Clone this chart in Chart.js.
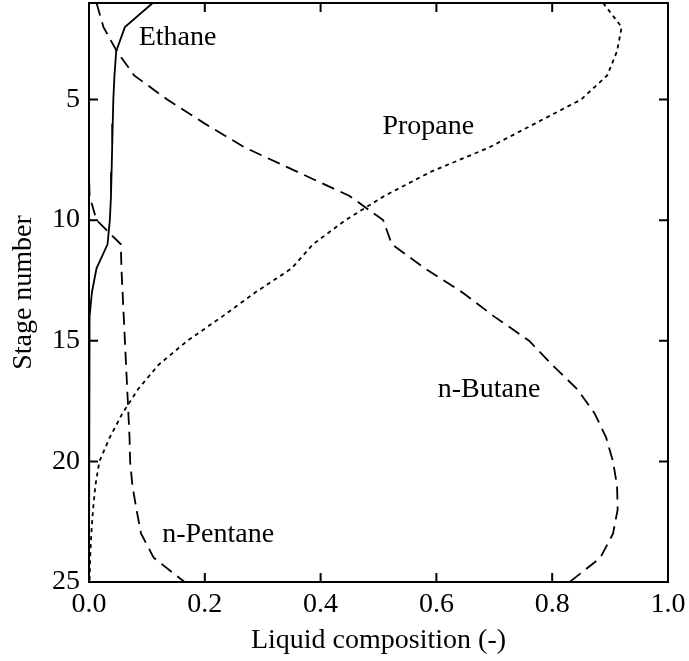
<!DOCTYPE html>
<html>
<head>
<meta charset="utf-8">
<script src="https://cdn.jsdelivr.net/npm/chart.js@4/dist/chart.umd.min.js"></script>
<style>
  html, body { margin: 0; padding: 0; background: #fff; }
  #wrap { width: 689px; height: 661px; position: relative; }
</style>
</head>
<body>
<div id="wrap"><canvas id="stages"></canvas></div>
<script>
// stage numbers, top of the column (1) to the bottom (25)
var stages = [1, 2, 3, 4, 5, 6, 7, 8, 9, 10, 11, 12, 13, 14, 15, 16, 17, 18, 19, 20, 21, 22, 23, 24, 25];

// liquid mole fractions on each stage
var ethane = [0.11, 0.062, 0.047, 0.044, 0.042, 0.041, 0.040, 0.039, 0.038, 0.036, 0.032, 0.013, 0.005, 0.001, 0, 0, 0, 0, 0, 0, 0, 0, 0, 0, 0];
var propane = [0.888, 0.92, 0.912, 0.895, 0.85, 0.77, 0.69, 0.59, 0.51, 0.443, 0.387, 0.35, 0.287, 0.23, 0.17, 0.12, 0.085, 0.058, 0.036, 0.018, 0.011, 0.007, 0.004, 0.002, 0.001];
var nButane = [0.013, 0.025, 0.048, 0.078, 0.135, 0.20, 0.27, 0.36, 0.45, 0.508, 0.523, 0.58, 0.645, 0.70, 0.76, 0.80, 0.843, 0.873, 0.893, 0.905, 0.912, 0.913, 0.905, 0.883, 0.83];
var nPentane = [0, 0, 0, 0, 0, 0, 0, 0, 0.001, 0.013, 0.055, 0.056, 0.058, 0.06, 0.062, 0.064, 0.066, 0.068, 0.07, 0.071, 0.075, 0.082, 0.09, 0.112, 0.165];

var xTicks = [0, 0.2, 0.4, 0.6, 0.8, 1.0];
var yTicks = [5, 10, 15, 20, 25];

// curve names written beside the lines (composition, stage)
var curveNames = ["Ethane", "Propane", "n-Butane", "n-Pentane"];
var nameX = [0.153, 0.586, 0.691, 0.223];
var nameY = [2.43, 6.12, 17.04, 23.05];

var FONT = "'Liberation Serif', 'Times New Roman', serif";

function toPoints(values) {
    return values.map(function (v, i) {
        return { x: v, y: stages[i] };
    });
}

function series(label, values, dash) {
    return {
        label: label,
        data: toPoints(values),
        showLine: true,
        borderColor: "#000",
        backgroundColor: "#000",
        borderWidth: 1.8,
        borderDash: dash,
        pointRadius: 0,
        tension: 0,
        fill: false,
    };
}

// frame around the plot, inward tick marks on all four sides, curve names
var framePlugin = {
    id: "frame",
    afterDatasetsDraw: function (chart) {
        var ctx = chart.ctx;
        var a = chart.chartArea;
        var xs = chart.scales.x;
        var ys = chart.scales.y;
        var len = 9;
        ctx.save();
        ctx.strokeStyle = "#000";
        ctx.lineWidth = 2;
        ctx.setLineDash([]);
        ctx.strokeRect(a.left, a.top, a.right - a.left, a.bottom - a.top);
        ctx.beginPath();
        xTicks.forEach(function (v) {
            var px = xs.getPixelForValue(v);
            ctx.moveTo(px, a.bottom);
            ctx.lineTo(px, a.bottom - len);
            ctx.moveTo(px, a.top);
            ctx.lineTo(px, a.top + len);
        });
        yTicks.forEach(function (v) {
            var py = ys.getPixelForValue(v);
            ctx.moveTo(a.left, py);
            ctx.lineTo(a.left + len, py);
            ctx.moveTo(a.right, py);
            ctx.lineTo(a.right - len, py);
        });
        ctx.stroke();

        ctx.fillStyle = "#000";
        ctx.font = "28px " + FONT;
        ctx.textAlign = "center";
        ctx.textBaseline = "middle";
        curveNames.forEach(function (name, i) {
            ctx.fillText(name, xs.getPixelForValue(nameX[i]), ys.getPixelForValue(nameY[i]));
        });
        ctx.restore();
    },
};

var ctx = document.getElementById("stages").getContext("2d");
var chart = new Chart(ctx, {
    type: "scatter",
    data: {
        datasets: [
            series("Ethane", ethane, []),
            series("Propane", propane, [4, 4]),
            series("n-Butane", nButane, [13, 7]),
            series("n-Pentane", nPentane, [13, 7]),
        ],
    },
    options: {
        responsive: true,
        maintainAspectRatio: false,
        animation: false,
        layout: {
            padding: { left: 0, right: 21, top: 3, bottom: 0 },
        },
        plugins: {
            legend: { display: false },
            tooltip: { enabled: false },
        },
        scales: {
            x: {
                type: "linear",
                min: 0,
                max: 1,
                grid: { display: false, drawTicks: false },
                border: { display: false },
                afterBuildTicks: function (scale) {
                    scale.ticks = xTicks.map(function (v) { return { value: v }; });
                },
                ticks: {
                    color: "#000",
                    padding: 6,
                    maxRotation: 0,
                    font: { family: FONT, size: 28 },
                    callback: function (v) { return Number(v).toFixed(1); },
                },
                title: {
                    display: true,
                    text: "Liquid composition (-)",
                    color: "#000",
                    padding: { top: 0, bottom: 4 },
                    font: { family: FONT, size: 28 },
                },
                afterFit: function (scale) {
                    scale.height = 79;
                    scale.paddingLeft = 0;
                    scale.paddingRight = 0;
                },
            },
            y: {
                type: "linear",
                reverse: true,
                min: 1,
                max: 25,
                grid: { display: false, drawTicks: false },
                border: { display: false },
                afterBuildTicks: function (scale) {
                    scale.ticks = yTicks.map(function (v) { return { value: v }; });
                },
                ticks: {
                    color: "#000",
                    padding: 9,
                    font: { family: FONT, size: 28 },
                },
                title: {
                    display: true,
                    text: "Stage number",
                    color: "#000",
                    padding: { top: 7, bottom: 0 },
                    font: { family: FONT, size: 28 },
                },
                afterFit: function (scale) {
                    scale.width = 89;
                    scale.paddingTop = 0;
                    scale.paddingBottom = 0;
                },
            },
        },
    },
    plugins: [framePlugin],
});
</script>
</body>
</html>
